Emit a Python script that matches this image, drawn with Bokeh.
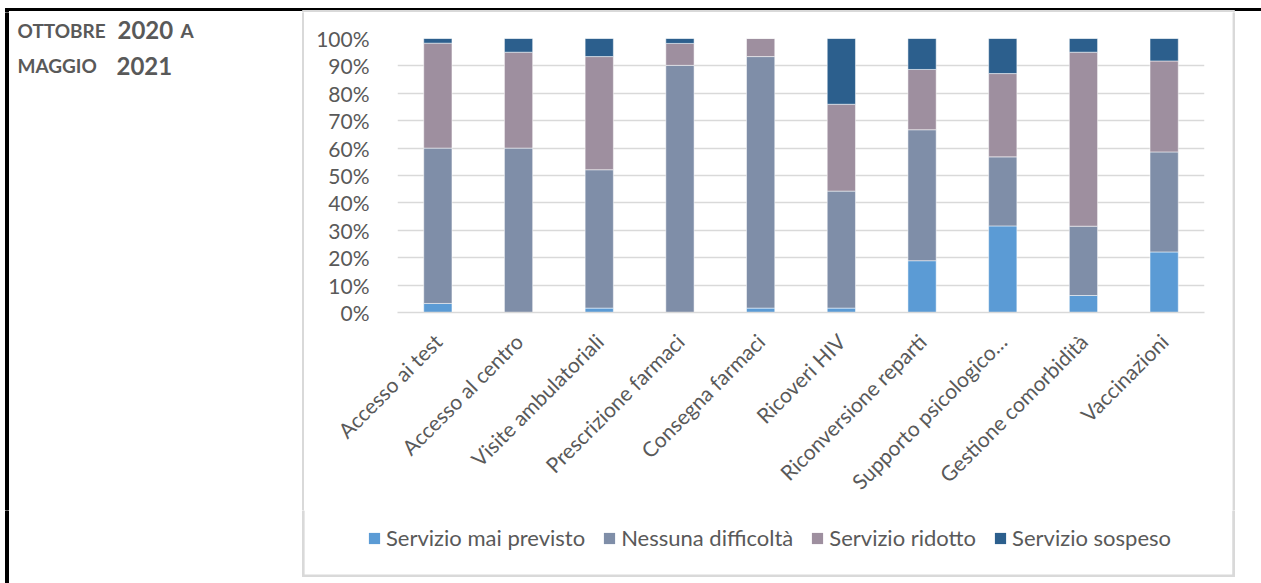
import math
from bokeh.plotting import figure
from bokeh.layouts import row, column
from bokeh.models import (Range1d, FactorRange, SingleIntervalTicker, NumeralTickFormatter,
                          Legend, LegendItem, ColumnDataSource)
from bokeh.core.properties import value
from bokeh.embed import file_html
from bokeh.resources import INLINE

categories = ["Accesso ai test", "Accesso al centro", "Visite ambulatoriali",
              "Prescrizione farmaci", "Consegna farmaci", "Ricoveri HIV",
              "Riconversione reparti", "Supporto psicologico…",
              "Gestione comorbidità", "Vaccinazioni"]
series_names = ["Servizio mai previsto", "Nessuna difficoltà", "Servizio ridotto", "Servizio sospeso"]
mai_previsto = [3.3, 0.0, 1.6, 0.0, 1.6, 1.6, 18.9, 31.6, 6.2, 22.1]
nessuna_difficolta = [56.7, 60.0, 50.5, 90.2, 91.8, 42.7, 47.8, 25.2, 25.3, 36.5]
servizio_ridotto = [38.3, 35.0, 41.3, 8.0, 6.6, 31.7, 22.0, 30.4, 63.5, 33.2]
servizio_sospeso = [1.7, 5.0, 6.6, 1.8, 0.0, 24.0, 11.3, 12.8, 5.0, 8.2]
colors = ["#5B9BD5", "#7F8EA8", "#9E8F9F", "#2C5F8D"]
title_line1 = ["OTTOBRE", "2020", "A"]
title_line2 = ["MAGGIO", "2021"]

FONT = "Lato"
TXT = "#595959"
GRID = "#D9D9D9"
FRAME = "#D9D9D9"

keys = ["s0", "s1", "s2", "s3"]
data = {"cat": categories}
for k, vals in zip(keys, [mai_previsto, nessuna_difficolta, servizio_ridotto, servizio_sospeso]):
    data[k] = [v / 100.0 for v in vals]
source = ColumnDataSource(data)


def deco_fig(w, h):
    f = figure(width=w, height=h, x_range=Range1d(0, w), y_range=Range1d(h, 0),
               x_axis_type=None, y_axis_type=None, output_backend="svg",
               toolbar_location=None, min_border=0)
    f.outline_line_color = None
    f.background_fill_color = "white"
    f.border_fill_color = "white"
    f.grid.visible = False
    return f


TOTAL_W = 1261
TOTAL_H = 583
TOP_H = 12
LEFT_W = 304
CHART_W = 928
MID_H = 498           # page y 12 .. 510
BOT_H = TOTAL_H - TOP_H - MID_H
RIGHT_W = TOTAL_W - LEFT_W - CHART_W

# --- top strip: black rule + top of grey chart frame
top = deco_fig(TOTAL_W, TOP_H)
top.quad(left=[5], right=[TOTAL_W], top=[8], bottom=[10], color="black")
top.quad(left=[5], right=[8], top=[8], bottom=[TOP_H], color="black")
top.quad(left=[302], right=[1234], top=[10], bottom=[11.5], color=FRAME)

# --- left column: black border + title
left = deco_fig(LEFT_W, MID_H)
left.quad(left=[5], right=[8], top=[0], bottom=[MID_H], color="black")
left.quad(left=[302], right=[303.6], top=[0], bottom=[MID_H], color=FRAME)
Y1, Y2 = 17.5, 53
left.text(x=[17, 180], y=[Y1, Y1], text=[title_line1[0], title_line1[2]],
          text_font=value(FONT), text_font_style="bold", text_font_size="19px",
          text_color=TXT, text_baseline="alphabetic", text_align="left")
left.text(x=[117], y=[Y1], text=[title_line1[1]],
          text_font=value(FONT), text_font_style="bold", text_font_size="24px",
          text_color=TXT, text_baseline="alphabetic", text_align="left")
left.text(x=[17], y=[Y2], text=[title_line2[0]],
          text_font=value(FONT), text_font_style="bold", text_font_size="19px",
          text_color=TXT, text_baseline="alphabetic", text_align="left")
left.text(x=[116], y=[Y2], text=[title_line2[1]],
          text_font=value(FONT), text_font_style="bold", text_font_size="24px",
          text_color=TXT, text_baseline="alphabetic", text_align="left")

# --- chart
p = figure(width=CHART_W, height=MID_H, x_range=FactorRange(*categories), y_range=Range1d(0, 1),
           output_backend="svg", toolbar_location=None,
           min_border_left=93, min_border_right=28, min_border_top=26,
           min_border_bottom=MID_H - (312 - TOP_H))

p.vbar_stack(keys, x="cat", width=0.35, source=source, color=colors,
             line_color="white", line_alpha=0.5, line_width=1)

p.outline_line_color = None
p.background_fill_color = "white"
p.border_fill_color = "white"
p.xgrid.grid_line_color = None
p.ygrid.grid_line_color = GRID
p.ygrid.grid_line_width = 1.5

p.yaxis.ticker = SingleIntervalTicker(interval=0.1)
p.yaxis.formatter = NumeralTickFormatter(format="0%")
p.yaxis.axis_line_color = None
p.yaxis.major_tick_line_color = None
p.yaxis.minor_tick_line_color = None
p.yaxis.major_tick_out = 0
p.yaxis.major_tick_in = 0
p.yaxis.major_label_standoff = 24
p.yaxis.major_label_text_font = FONT
p.yaxis.major_label_text_font_size = "21px"
p.yaxis.major_label_text_color = TXT

p.xaxis.axis_line_color = GRID
p.xaxis.axis_line_width = 1.5
p.xaxis.major_tick_line_color = None
p.xaxis.minor_tick_line_color = None
p.xaxis.major_tick_out = 0
p.xaxis.major_tick_in = 0
p.xaxis.major_label_orientation = math.pi / 4
p.xaxis.major_label_standoff = 25
p.xaxis.major_label_text_font = FONT
p.xaxis.major_label_text_font_size = "21px"
p.xaxis.major_label_text_color = TXT

# --- right strip: right edge of grey chart frame
right = deco_fig(RIGHT_W, MID_H)
right.quad(left=[0.3], right=[2], top=[0], bottom=[MID_H], color=FRAME)

# --- bottom strip: borders + legend
bot = deco_fig(TOTAL_W, BOT_H)
bot.quad(left=[5], right=[8], top=[0], bottom=[BOT_H], color="black")
bot.quad(left=[302], right=[303.6], top=[0], bottom=[66], color=FRAME)
bot.quad(left=[1232.3], right=[1234], top=[0], bottom=[66], color=FRAME)
bot.quad(left=[302], right=[1234], top=[64.5], bottom=[66], color=FRAME)
# legend swatches: one off-canvas swatch per series (only used to draw the legend keys)
legend_renderers = [bot.quad(left=[-50], right=[-40], top=[-50], bottom=[-40],
                             fill_color=c, line_color=None)
                    for c in colors]
legend = Legend(items=[LegendItem(label=n, renderers=[r]) for n, r in zip(series_names, legend_renderers)],
                orientation="horizontal", location=(367, 32),
                glyph_width=14, glyph_height=14, label_standoff=5, spacing=17, padding=0,
                margin=0, border_line_color=None, background_fill_alpha=0,
                label_text_font=FONT, label_text_font_size="22px", label_text_color=TXT)
bot.add_layout(legend, "center")

layout = column(top, row(left, column(p), right, spacing=0), bot, spacing=0)

open("out.html", "w").write(file_html(layout, INLINE))
